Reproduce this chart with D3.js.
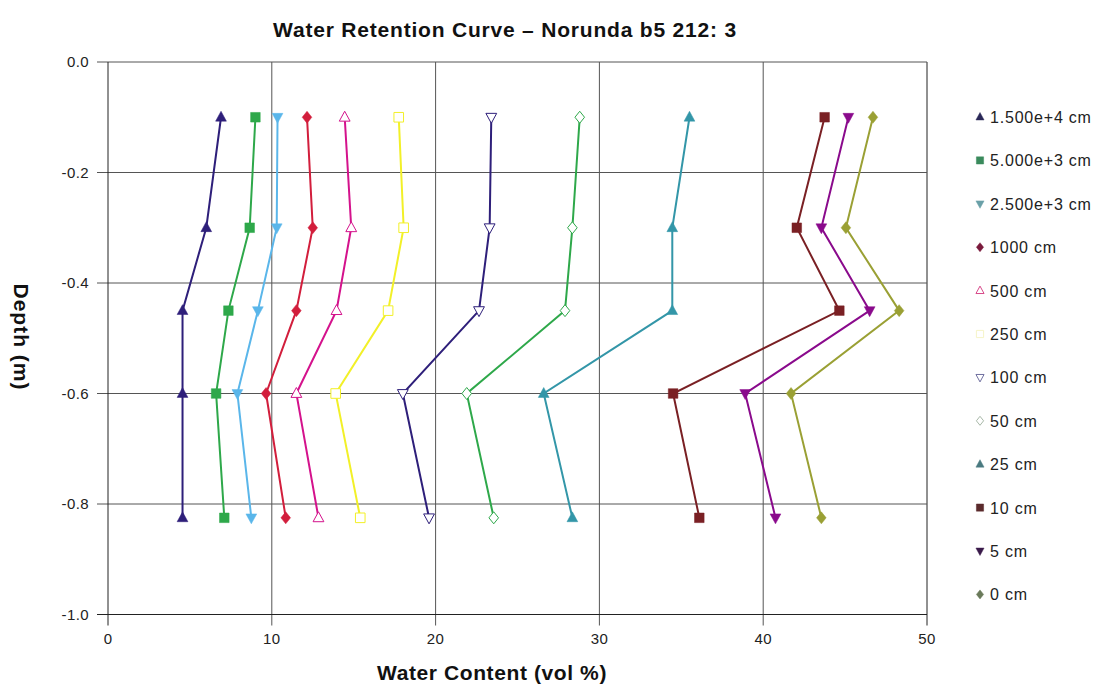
<!DOCTYPE html>
<html><head><meta charset="utf-8">
<script src="https://cdn.jsdelivr.net/npm/d3@7"></script>
<style>body{margin:0;background:#fff}svg{display:block}text{font-family:"Liberation Sans",Arial,sans-serif}</style>
</head><body><svg id="c" width="1098" height="686"></svg>
<script>
const depths = [-0.1, -0.3, -0.45, -0.6, -0.825];
const seriesNames = ["1.500e+4 cm","5.000e+3 cm","2.500e+3 cm","1000 cm","500 cm","250 cm","100 cm","50 cm","25 cm","10 cm","5 cm","0 cm"];
const s15000 = [6.9, 6.0, 4.55, 4.55, 4.55];
const s5000  = [9.0, 8.65, 7.35, 6.6, 7.1];
const s2500  = [10.35, 10.3, 9.15, 7.9, 8.75];
const s1000  = [12.15, 12.5, 11.5, 9.65, 10.85];
const s500   = [14.45, 14.85, 13.95, 11.5, 12.85];
const s250   = [17.75, 18.05, 17.1, 13.9, 15.4];
const s100   = [23.4, 23.3, 22.65, 18.0, 19.6];
const s50    = [28.8, 28.35, 27.9, 21.9, 23.55];
const s25    = [35.5, 34.45, 34.45, 26.6, 28.35];
const s10    = [43.75, 42.05, 44.65, 34.5, 36.1];
const s5     = [45.2, 43.55, 46.5, 38.9, 40.75];
const s0     = [46.7, 45.05, 48.3, 41.7, 43.55];
const seriesValues = [s15000,s5000,s2500,s1000,s500,s250,s100,s50,s25,s10,s5,s0];
const xTicks = [0,10,20,30,40,50];
const yTicks = [0.0,-0.2,-0.4,-0.6,-0.8,-1.0];

const lineColors = ["#2e1f7a","#2ea84a","#5ab6ea","#d21e3c","#d4128c","#f2f028","#2e1f7a","#2ea84a","#3396a8","#7a2024","#8a0a8c","#9aa034"];
const legendColors = ["#2a2858","#3a8a5c","#6aa0a8","#7a1a3c","#d84a8a","#f6f4c8","#7070a0","#a8b8a8","#4a7a80","#5a2a2c","#3a1a4a","#6a7a5a"];
const shapes = ["triUp","square","triDown","diamond","triUp","square","triDown","diamond","triUp","square","triDown","diamond"];
const filled = [true,true,true,true,false,false,false,false,true,true,true,true];

const svg = d3.select("#c");
const L=108, R=927, T=62, B=614.5;
const x = d3.scaleLinear().domain([0,50]).range([L,R]);
const y = d3.scaleLinear().domain([-1,0]).range([B,T]);

// grid
svg.append("g").selectAll("line").data(xTicks.slice(1)).join("line")
  .attr("x1",d=>x(d)).attr("x2",d=>x(d)).attr("y1",T).attr("y2",B+11)
  .attr("stroke",(d)=>d===50?"#222":"#555").attr("stroke-width",1);
svg.append("g").selectAll("line").data(yTicks).join("line")
  .attr("x1",L-11).attr("x2",R).attr("y1",d=>y(d)).attr("y2",d=>y(d))
  .attr("stroke",d=>d===-1?"#222":"#555").attr("stroke-width",1);
svg.append("line").attr("x1",L).attr("x2",L).attr("y1",T).attr("y2",B+11).attr("stroke","#222");

// tick labels
svg.append("g").selectAll("text").data(xTicks).join("text")
  .attr("x",d=>x(d)).attr("y",644).attr("text-anchor","middle")
  .attr("font-size",15).attr("letter-spacing",0.4).attr("fill","#222").text(d=>d);
svg.append("g").selectAll("text").data(yTicks).join("text")
  .attr("x",89).attr("y",d=>y(d)+5).attr("text-anchor","end")
  .attr("font-size",15).attr("letter-spacing",0.4).attr("fill","#222").text(d=>d3.format(".1f")(d).replace("−","-"));

// titles
svg.append("text").attr("x",505).attr("y",37).attr("text-anchor","middle")
  .attr("font-size",21).attr("letter-spacing",0.8).attr("font-weight","bold").attr("fill","#111")
  .text("Water Retention Curve – Norunda b5 212: 3");
svg.append("text").attr("x",492).attr("y",680).attr("text-anchor","middle")
  .attr("font-size",21).attr("letter-spacing",0.6).attr("font-weight","bold").attr("fill","#111")
  .text("Water Content (vol %)");
svg.append("text").attr("transform","translate(14,337) rotate(90)").attr("text-anchor","middle")
  .attr("font-size",21).attr("letter-spacing",1).attr("font-weight","bold").attr("fill","#111")
  .text("Depth (m)");

function markerPath(shape, s){
  if(shape==="triUp") return `M0,${-s}L${s*0.9},${s*0.65}L${-s*0.9},${s*0.65}Z`;
  if(shape==="triDown") return `M0,${s}L${s*0.9},${-s*0.65}L${-s*0.9},${-s*0.65}Z`;
  if(shape==="square") return `M${-s*0.8},${-s*0.8}h${s*1.6}v${s*1.6}h${-s*1.6}Z`;
  return `M0,${-s}L${s*0.8},0L0,${s}L${-s*0.8},0Z`;
}

const line = d3.line().x(d=>x(d[0])).y(d=>y(d[1]));
seriesValues.forEach((vals,i)=>{
  const pts = vals.map((v,j)=>[v,depths[j]]);
  const g = svg.append("g");
  g.append("path").attr("d",line(pts)).attr("fill","none")
    .attr("stroke",lineColors[i]).attr("stroke-width",2);
  g.selectAll("path.m").data(pts).join("path").attr("class","m")
    .attr("transform",d=>`translate(${x(d[0])},${y(d[1])})`)
    .attr("d",markerPath(shapes[i],6))
    .attr("fill",filled[i]?lineColors[i]:"#fff")
    .attr("stroke",lineColors[i]).attr("stroke-width",filled[i]?0.5:1);
});

// legend
const lg = svg.append("g");
seriesNames.forEach((n,i)=>{
  const yy = 117 + i*43.4;
  lg.append("path").attr("transform",`translate(980,${yy})`)
    .attr("d",markerPath(shapes[i],4.5))
    .attr("fill",filled[i]?legendColors[i]:"#fff")
    .attr("stroke",legendColors[i]).attr("stroke-width",filled[i]?0.5:1);
  lg.append("text").attr("x",990).attr("y",yy+6).attr("font-size",16)
    .attr("letter-spacing",0.8).attr("fill","#222").text(n);
});
</script></body></html>
